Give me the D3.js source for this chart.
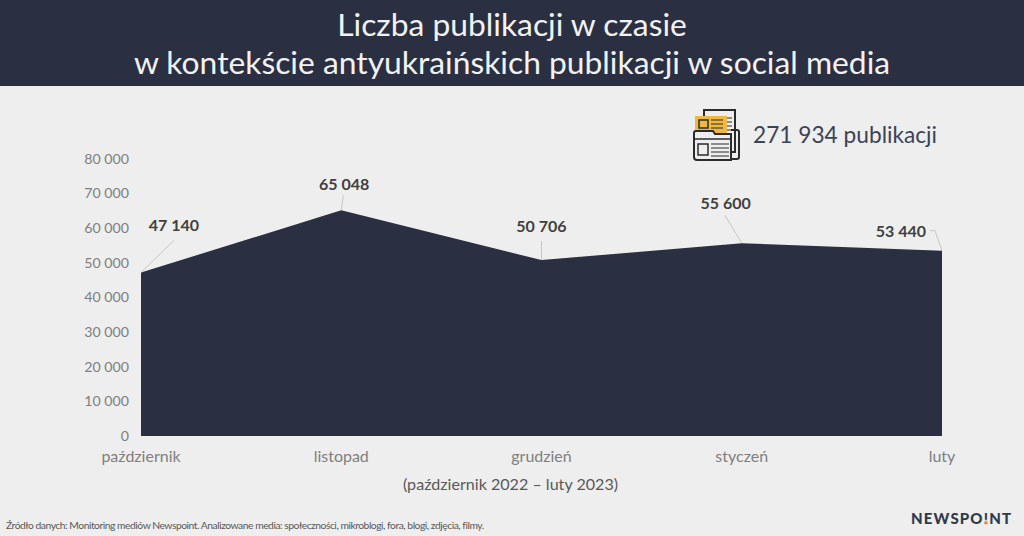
<!DOCTYPE html>
<html><head><meta charset="utf-8">
<script src="https://cdn.jsdelivr.net/npm/d3@7/dist/d3.min.js"></script>
<style>html,body{margin:0;padding:0;background:#eeeeee;overflow:hidden}svg{display:block}text{font-family:Lato,sans-serif}</style>
</head><body><svg id="c" width="1024" height="536"></svg>
<script>
const categories=["październik","listopad","grudzień","styczeń","luty"];
const values=[47140,65048,50706,55600,53440];
const valueLabels=["47 140","65 048","50 706","55 600","53 440"];
const yTicks=[0,10000,20000,30000,40000,50000,60000,70000,80000];
const titleLines=["Liczba publikacji w czasie","w kontekście antyukraińskich publikacji w social media"];
const totalLabel="271 934 publikacji";
const rangeLabel="(październik 2022 – luty 2023)";
const sourceLabel="Źródło danych: Monitoring mediów Newspoint. Analizowane media: społeczności, mikroblogi, fora, blogi, zdjęcia, filmy.";

const svg=d3.select("#c");
const navy="#2a3042";
svg.append("rect").attr("width",1024).attr("height",536).attr("fill","#eeeeee");
svg.append("rect").attr("width",1024).attr("height",86).attr("fill",navy);
svg.selectAll(".title").data(titleLines).join("text").attr("class","title")
 .attr("x",512).attr("y",(d,i)=>i?74:36).attr("text-anchor","middle").attr("fill","#f2f2f2")
 .style("font-size","31.8px").text(d=>d);

const x=d3.scalePoint().domain(categories).range([141,942]);
const y=d3.scaleLinear().domain([0,80000]).range([436,158.5]);
const pts=categories.map((c,i)=>({c,v:values[i],l:valueLabels[i]}));
svg.append("path").datum(pts).attr("fill",navy)
 .attr("d",d3.area().x(d=>x(d.c)).y0(y(0)).y1(d=>y(d.v)));

const yAxis=svg.append("g").attr("transform","translate(129,0)")
 .call(d3.axisLeft(y).tickValues(yTicks).tickSize(0).tickPadding(0)
 .tickFormat(d=>d3.format(",")(d).replace(/,/g," ")));
yAxis.select(".domain").remove();
yAxis.selectAll("text").attr("fill","#7f7f7f").style("font-size","14.2px").style("font-family","Lato,sans-serif");

svg.selectAll(".cat").data(categories).join("text").attr("class","cat")
 .attr("x",d=>x(d)).attr("y",462).attr("text-anchor","middle")
 .attr("fill","#7f7f7f").style("font-size","16px").text(d=>d);
svg.append("text").attr("x",510.5).attr("y",490).attr("text-anchor","middle").attr("fill","#595959")
 .style("font-size","16.1px").text(rangeLabel);

// value labels with leader lines (offsets from the data point)
const lab=[[33,-41],[3,-20],[0,-28],[-16,-34],[-16,-14]];
const lead=[[[0,0],[33,-32]],[[0,0],[2,-15]],[[0,0],[0,-19]],[[0,0],[-17,-28]],[[0,0],[-7,-20],[-12,-20]]];
pts.forEach((d,i)=>{
 const px=x(d.c),py=y(d.v);
 svg.append("path").attr("fill","none").attr("stroke","#bdbdbd").attr("stroke-width",0.8)
  .attr("d",d3.line()(lead[i].map(o=>[px+o[0],py+o[1]])));
 svg.append("text").attr("x",px+lab[i][0]).attr("y",py+lab[i][1])
  .attr("text-anchor",i===4?"end":"middle").attr("fill","#404040")
  .style("font-size","16px").style("font-weight",700).text(d.l);
});

// icon
const ic=svg.append("g").attr("fill","none").attr("stroke","#2b2b2b").attr("stroke-width",2);
ic.append("rect").attr("x",704).attr("y",110).attr("width",31).attr("height",42).attr("fill","#eeeeee");
[118,122,126,130,134].forEach(v=>ic.append("line").attr("x1",722).attr("x2",732).attr("y1",v).attr("y2",v).attr("stroke-width",1));
ic.append("rect").attr("x",695).attr("y",116).attr("width",32).attr("height",22).attr("fill","#f0b840").attr("stroke","none");
ic.append("rect").attr("x",699).attr("y",120).attr("width",9).attr("height",8).attr("stroke-width",1.5);
[120,124,128].forEach(v=>ic.append("line").attr("x1",711).attr("x2",723).attr("y1",v).attr("y2",v).attr("stroke-width",1));
ic.append("path").attr("fill","#eeeeee").attr("d","M694 156V133a2 2 0 0 1 2-2H713l2 3H731v26H697a3 3 0 0 1-3-3Z");
ic.append("path").attr("d","M731 130h6a2 2 0 0 1 2 2v25a2 2 0 0 1-2 2h-6");
ic.append("line").attr("x1",694).attr("x2",731).attr("y1",139).attr("y2",139).attr("stroke-width",1.5);
ic.append("rect").attr("x",698).attr("y",144).attr("width",10).attr("height",11).attr("stroke-width",1.5);
[144,148,152,156].forEach(v=>ic.append("line").attr("x1",711).attr("x2",729).attr("y1",v).attr("y2",v).attr("stroke-width",1));

svg.append("text").attr("x",753).attr("y",143).attr("fill","#3b4357").style("font-size","22.7px").text(totalLabel);
svg.append("text").attr("x",6).attr("y",529).attr("fill","#595959").style("font-size","10.3px").style("letter-spacing","-0.47px").text(sourceLabel);
const logo=svg.append("text").attr("x",911).attr("y",524).attr("fill","#2f3a4c").style("font-size","15px").style("font-weight",900).style("letter-spacing","1.15px");
logo.append("tspan").text("NEWSPO");
logo.append("tspan").text("!");
logo.append("tspan").text("NT");
svg.append("rect").attr("x",984.5).attr("y",521.5).attr("width",3).attr("height",2.8).attr("fill","#f08a3c");
</script></body></html>
